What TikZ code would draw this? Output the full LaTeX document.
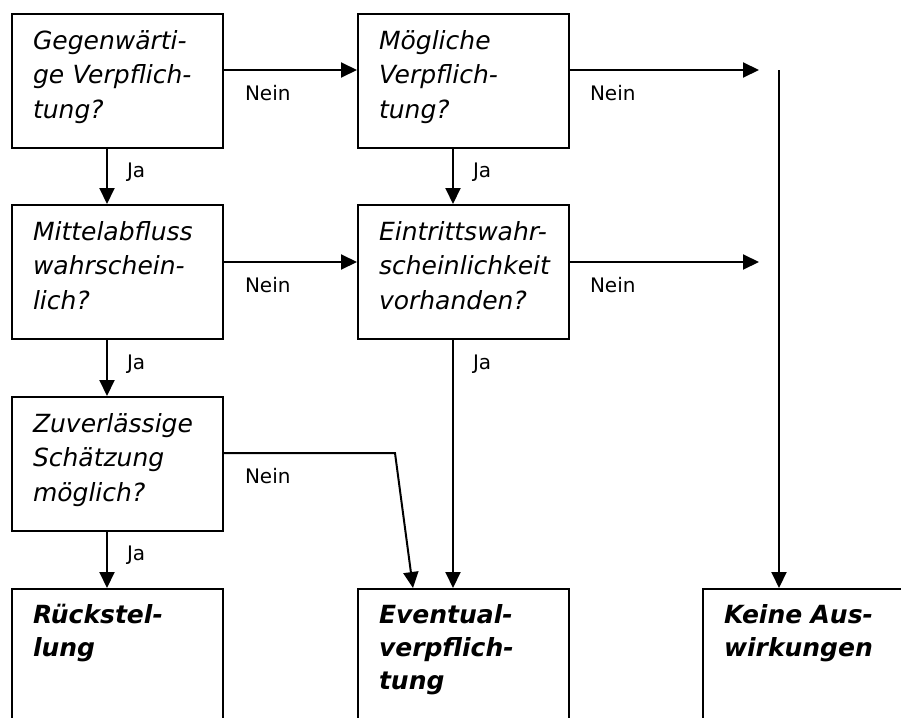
\documentclass[tikz,border=0pt]{standalone}
\usepackage{fontspec}
\setmainfont{DejaVu Sans}
\usetikzlibrary{arrows.meta}
\hyphenpenalty=10000

\begin{document}
\begin{tikzpicture}[
            x=1pt, y=-1pt,
            >={Triangle[width=15pt,length=16pt]},
            line width=2pt,
            qbox/.style={draw, anchor=north west, text width=169pt, align=left, inner xsep=21pt, inner ysep=0pt,
                text height=35pt, text depth=99pt, font=\fontsize{25}{34.5}\selectfont\itshape},
            rbox/.style={qbox, text height=34pt, text depth=100pt, font=\fontsize{25}{33}\selectfont\bfseries\itshape},
            ynlabel/.style={anchor=west, inner sep=0pt, font=\fontsize{20}{23}\selectfont}
        ]
            \useasboundingbox (0,0) rectangle (901,717);

            \node[qbox] (q1) at (11,13) {Gegenwärti-\\ge Verpflich-\\tung?};
            \node[qbox] (q2) at (357,13) {Mögliche\\Verpflich-\\tung?};
            \node[qbox] (q3) at (11,204) {Mittelabfluss\\wahrschein-\\lich?};
            \node[qbox] (q4) at (357,204) {Eintrittswahr-\\scheinlichkeit\\vorhanden?};
            \node[qbox] (q5) at (11,396) {Zuverlässige\\Schätzung\\möglich?};
            \node[rbox] (r1) at (11,588) {Rückstel-\\lung};
            \node[rbox] (r2) at (357,588) {Eventual-\\verpflich-\\tung};
            \node[rbox] (r3) at (702,588) {Keine Aus-\\wirkungen};

            \coordinate (c1) at (107,0);
            \coordinate (c2) at (453,0);
            \coordinate (c3) at (779,0);
            \coordinate (y1) at (0,70);
            \coordinate (y2) at (0,262);
            \coordinate (y3) at (0,453);
            \coordinate (e1) at (759,70);
            \coordinate (e2) at (759,262);
            \coordinate (k0) at (779,70);
            \coordinate (d1) at (395,453);
            \coordinate (d2) at (413,0);

            \draw[->] (q1.south -| c1) -- (q3.north -| c1);
            \draw[->] (q3.south -| c1) -- (q5.north -| c1);
            \draw[->] (q5.south -| c1) -- (r1.north -| c1);
            \draw[->] (q2.south -| c2) -- (q4.north -| c2);
            \draw[->] (q4.south -| c2) -- (r2.north -| c2);
            \draw[->] (q1.east |- y1) -- (q2.west |- y1);
            \draw[->] (q3.east |- y2) -- (q4.west |- y2);
            \draw[->] (q2.east |- y1) -- (e1);
            \draw[->] (q4.east |- y2) -- (e2);
            \draw[->] (k0) -- (r3.north -| c3);
            \draw[->] (q5.east |- y3) -- (d1) -- (r2.north -| d2);

            \node[ynlabel] (ja1) at ([xshift=19pt, yshift=-23pt]q1.south -| c1) {Ja};
            \node[ynlabel] (ja2) at ([xshift=19pt, yshift=-24pt]q3.south -| c1) {Ja};
            \node[ynlabel] (ja3) at ([xshift=19pt, yshift=-23pt]q5.south -| c1) {Ja};
            \node[ynlabel] (ja4) at ([xshift=19pt, yshift=-23pt]q2.south -| c2) {Ja};
            \node[ynlabel] (ja5) at ([xshift=19pt, yshift=-24pt]q4.south -| c2) {Ja};
            \node[ynlabel] (nein1) at ([xshift=20pt, yshift=-23pt]q1.east |- y1) {Nein};
            \node[ynlabel] (nein2) at ([xshift=20pt, yshift=-23pt]q3.east |- y2) {Nein};
            \node[ynlabel] (nein3) at ([xshift=20pt, yshift=-23pt]q5.east |- y3) {Nein};
            \node[ynlabel] (nein4) at ([xshift=19pt, yshift=-23pt]q2.east |- y1) {Nein};
            \node[ynlabel] (nein5) at ([xshift=19pt, yshift=-23pt]q4.east |- y2) {Nein};
        \end{tikzpicture}
\end{document}
